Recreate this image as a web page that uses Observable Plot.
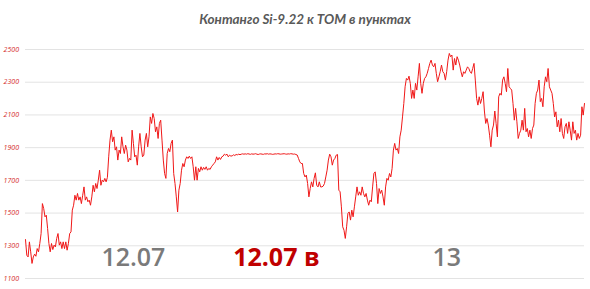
<!DOCTYPE html>
<html>
<head>
<meta charset="utf-8">
<script src="https://cdn.jsdelivr.net/npm/d3@7"></script>
<script src="https://cdn.jsdelivr.net/npm/@observablehq/plot@0.6"></script>
<style>
  html, body { margin: 0; padding: 0; background: #fff; }
  #chart svg { display: block; }
</style>
</head>
<body>
<div id="chart"></div>
<script>
const title = "Контанго Si-9.22 к TOM в пунктах";
const yTicks = [1100, 1300, 1500, 1700, 1900, 2100, 2300, 2500];

// Contango values, in points, in time order
const segA = [1338,1242,1232,1324,1263,1192,1232,1249,1236,1283,
  1263,1314,1375,1558,1528,1477,1487,1406,1314,1263,
  1314,1277,1304,1293,1345,1375,1304,1324,1283,1324,
  1283,1324,1273,1314,1375,1385,1518,1548,1609,1579,
  1620,1579,1599,1558,1609,1660,1579,1599,1569,1579,
  1548,1599,1670,1630,1681,1650,1701,1762,1670,1701,
  1691,1712,1691,1718,1844,1946,2007,1936,1966,1885,
  1905,1824,1885,1864,1966,1905,1864,1915,1885,1813,
  1834,1824,2007,1926,1844,1854];
const segB = [1793,1905,1987,1905,1844,1854,1946,1987,1905,1966,
  2088,2048,2109,2078,1997,2027,1956,2048,2068,1946,
  1824,1742,1712,1864,1895,1875,1926,1946,1742,1681,
  1599,1507,1640,1681,1762,1803,1783,1824,1844,1834,
  1848,1834,1844,1783,1701,1783,1701,1773,1752,1783,
  1762,1779,1767,1783,1762,1773,1767,1783,1793,1803,
  1813,1844,1824,1840,1828,1844,1848,1860,1854,1860,
  1844,1854,1848,1850,1856,1852,1858,1856,1860,1857,1860,1862,1860];
const segFlat = [1862,1860,1863,1861,1859,1862,1860,1861,1863,1860,
  1858,1861,1862,1860,1859,1862,1861,1863,1860,1862,
  1861,1859,1860,1862,1861,1863,1862,1860,1861,1862,
  1863,1861,1860,1862,1861,1863,1862,1860,1861,1858,1855];
const segC = [1834,1813,1803,1803,1742,1721,1732,1681,1599,1650,
  1691,1660,1712,1746,1670,1660,1691,1660,1660,1665,
  1681,1721,1762,1824,1860,1844,1793,1824,1834,1854,
  1858,1640,1630,1538,1416,1395,1345,1416,1498,1507,
  1457,1518,1477,1538];
const segD = [1599,1660,1609,1630,1609,1660,1620,1599,1620,1579,
  1548,1579,1569,1660,1742,1752,1681,1558,1650,1620,
  1640,1599,1548,1660,1712,1701,1742,1721,1773,1885,
  1926,1885,1895,1864,1966,2007,2088,2170,2272,2323,
  2313,2337,2293,2201,2252,2201,2293,2252,2333,2415,
  2293,2232,2293,2323,2333,2354,2384,2415,2435,2405,
  2394,2415,2354,2303,2333,2364,2405,2364,2354,2313,
  2364,2435,2476,2456,2466,2374,2445,2405,2456,2435,
  2405,2364,2333,2364];
const segE = [2354,2374,2394,2384,2364,2354,2384,2415,2313,2201,
  2160,2211,2170,2201,2242,2124,2048,2078,2038,1976,
  1905,2007,2038,2124,2048,1966,2211,2232,2221,2313,
  2333,2293,2242,2384,2272,2262,2252,2170,2068,2140,
  2058,1956,1987,2007,2068,2007,2140,1997,2017,1966,
  2007,1956,2017,2038,2170,2232,2252,2313,2181,2201,
  2150,2272,2333,2303,2384,2272,2252,2232,2170,2088,
  2119,2027,2068,1997,2078,1987,1956,2027,2048,1987,
  2058,2007,1946,2058,1987,2007,1946,1987,1956,1976,
  2150,2099,2170];

// Annotations: text, position (series index), level (points)
const noteTexts = ["12.07", "12.07 в", "13"];
const noteIdx = [83, 193, 324];
const noteLevel = [1228, 1228, 1228];
const noteColors = ["#7a7a7a", "#c00000", "#7a7a7a"];
const noteWeights = ["600", "bold", "600"];

const values = [...segA, ...segB, ...segFlat, ...segC, ...segD, ...segE];
const data = values.map((v, i) => ({i, v}));
const notes = noteTexts.map((t, k) => ({t, i: noteIdx[k], v: noteLevel[k], c: noteColors[k], w: noteWeights[k]}));

const chart = Plot.plot({
  width: 590,
  height: 289,
  marginTop: 49,
  marginBottom: 11,
  marginLeft: 25,
  marginRight: 6,
  style: {background: "#fff", fontFamily: "'Open Sans', sans-serif"},
  x: {axis: null, domain: [0, values.length - 1]},
  y: {domain: [1100, 2500], axis: null},
  marks: [
    Plot.ruleY(yTicks, {stroke: "#e3e3e3", strokeWidth: 1}),
    Plot.axisY(yTicks, {tickSize: 0, tickPadding: 6.5, tickFormat: d => String(d), fontSize: 7, fontStyle: "italic", fill: "#d42a2a", label: null}),
    Plot.line(data, {x: "i", y: "v", stroke: "#f01818", strokeWidth: 1}),
    ...notes.map(n => Plot.text([n], {x: "i", y: "v", text: "t", fill: n.c, fontWeight: n.w, fontSize: 25, textAnchor: "middle", lineAnchor: "middle", fontFamily: "'Open Sans', sans-serif"})),
    Plot.text([title], {frameAnchor: "top", dy: -35, fontSize: 13.5, fontWeight: "bold", fontStyle: "italic", fill: "#595959", fontFamily: "Lato, 'Open Sans', sans-serif"})
  ]
});
document.getElementById("chart").append(chart);
</script>
</body>
</html>
